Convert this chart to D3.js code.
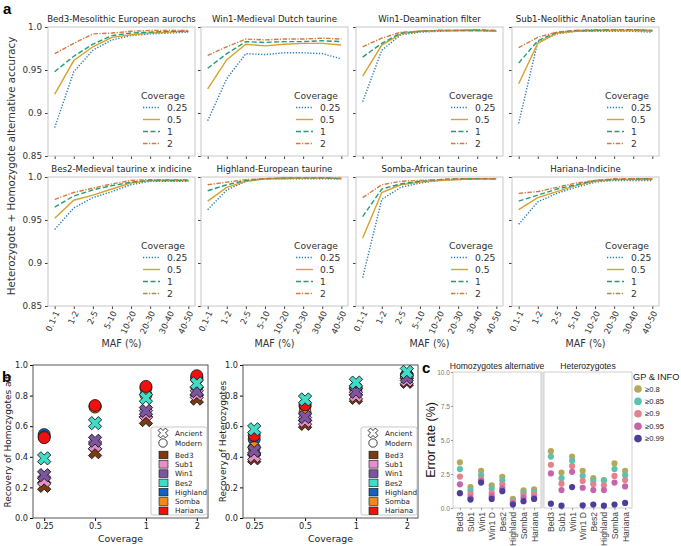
<!DOCTYPE html>
<html>
<head>
<meta charset="utf-8">
<script src="https://cdn.jsdelivr.net/npm/d3@7"></script>
<style>
body { margin: 0; background: #fff; }
svg { display: block; }
</style>
</head>
<body>
<svg id="fig" width="681" height="546"></svg>
<script>
// ---------- data : panel a ----------
var mafBins = ["0.1-1", "1-2", "2-5", "5-10", "10-20", "20-30", "30-40", "40-50"];
var coverageLevels = ["0.25", "0.5", "1", "2"];
var panelTitles = ["Bed3-Mesolithic European aurochs", "Win1-Medieval Dutch taurine",
    "Win1-Deamination filter", "Sub1-Neolithic Anatolian taurine",
    "Bes2-Medieval taurine x indicine", "Highland-European taurine",
    "Somba-African taurine", "Hariana-Indicine"];
var accTicks = [0.85, 0.9, 0.95, 1.0];
var accTickLabels = ["0.85", "0.9", "0.95", "1.0"];

// one row per coverage (0.25, 0.5, 1, 2), one value per MAF bin
var accBed3 = [
    [0.883, 0.948, 0.973, 0.985, 0.990, 0.992, 0.993, 0.994],
    [0.922, 0.961, 0.977, 0.988, 0.991, 0.993, 0.994, 0.995],
    [0.948, 0.966, 0.980, 0.990, 0.993, 0.994, 0.995, 0.995],
    [0.969, 0.981, 0.992, 0.993, 0.995, 0.996, 0.996, 0.996]];
var accWin1 = [
    [0.891, 0.940, 0.969, 0.968, 0.970, 0.970, 0.969, 0.963],
    [0.928, 0.962, 0.980, 0.978, 0.980, 0.981, 0.981, 0.979],
    [0.952, 0.969, 0.983, 0.982, 0.983, 0.983, 0.984, 0.983],
    [0.967, 0.977, 0.986, 0.985, 0.986, 0.986, 0.987, 0.986]];
var accWin1D = [
    [0.913, 0.973, 0.991, 0.994, 0.995, 0.996, 0.996, 0.995],
    [0.943, 0.979, 0.992, 0.995, 0.996, 0.996, 0.996, 0.995],
    [0.965, 0.981, 0.993, 0.995, 0.996, 0.996, 0.996, 0.996],
    [0.977, 0.987, 0.994, 0.995, 0.996, 0.996, 0.997, 0.996]];
var accSub1 = [
    [0.888, 0.983, 0.992, 0.995, 0.995, 0.995, 0.995, 0.994],
    [0.934, 0.981, 0.993, 0.995, 0.996, 0.996, 0.996, 0.995],
    [0.958, 0.984, 0.994, 0.996, 0.996, 0.997, 0.997, 0.996],
    [0.976, 0.988, 0.994, 0.996, 0.997, 0.997, 0.997, 0.996]];
var accBes2 = [
    [0.939, 0.964, 0.976, 0.983, 0.991, 0.995, 0.995, 0.995],
    [0.952, 0.973, 0.979, 0.986, 0.993, 0.996, 0.996, 0.996],
    [0.965, 0.978, 0.985, 0.990, 0.994, 0.996, 0.996, 0.996],
    [0.974, 0.982, 0.987, 0.992, 0.996, 0.997, 0.997, 0.997]];
var accHighland = [
    [0.962, 0.985, 0.995, 0.998, 0.998, 0.998, 0.998, 0.998],
    [0.972, 0.988, 0.995, 0.998, 0.998, 0.999, 0.999, 0.998],
    [0.984, 0.991, 0.996, 0.998, 0.999, 0.999, 0.999, 0.998],
    [0.991, 0.994, 0.997, 0.998, 0.999, 0.999, 0.999, 0.999]];
var accSomba = [
    [0.883, 0.974, 0.988, 0.993, 0.996, 0.997, 0.998, 0.998],
    [0.929, 0.982, 0.991, 0.994, 0.996, 0.997, 0.998, 0.998],
    [0.954, 0.986, 0.992, 0.995, 0.997, 0.998, 0.998, 0.998],
    [0.976, 0.991, 0.995, 0.996, 0.997, 0.998, 0.998, 0.998]];
var accHariana = [
    [0.945, 0.971, 0.981, 0.988, 0.994, 0.996, 0.996, 0.996],
    [0.962, 0.976, 0.983, 0.990, 0.995, 0.997, 0.997, 0.997],
    [0.972, 0.979, 0.986, 0.991, 0.996, 0.997, 0.998, 0.998],
    [0.981, 0.983, 0.988, 0.993, 0.996, 0.998, 0.998, 0.998]];
var panelAcc = [accBed3, accWin1, accWin1D, accSub1, accBes2, accHighland, accSomba, accHariana];

// ---------- data : panel b ----------
var covTicks = ["0.25", "0.5", "1", "2"];
var samples = ["Bed3", "Sub1", "Win1", "Bes2", "Highland", "Somba", "Hariana"];
var sampleType = ["Ancient", "Ancient", "Ancient", "Ancient", "Modern", "Modern", "Modern"];
var recHomAlt = [
    [0.21, 0.43, 0.64, 0.78],
    [0.245, 0.475, 0.68, 0.81],
    [0.28, 0.505, 0.70, 0.83],
    [0.39, 0.62, 0.785, 0.88],
    [0.545, 0.73, 0.85, 0.92],
    [0.53, 0.725, 0.805, 0.91],
    [0.525, 0.735, 0.86, 0.93]];
var recHet = [
    [0.39, 0.615, 0.785, 0.89],
    [0.405, 0.635, 0.80, 0.90],
    [0.44, 0.66, 0.825, 0.92],
    [0.58, 0.775, 0.885, 0.955],
    [0.515, 0.73, 0.85, 0.935],
    [0.46, 0.69, 0.84, 0.93],
    [0.54, 0.74, 0.855, 0.935]];
var recTicks = [0, 0.2, 0.4, 0.6, 0.8, 1.0];

// ---------- data : panel c ----------
var errSamples = ["Bed3", "Sub1", "Win1", "Win1 D", "Bes2", "Highland", "Somba", "Hariana"];
var gpLevels = ["≥0.8", "≥0.85", "≥0.9", "≥0.95", "≥0.99"];
var errTicks = [0, 2.5, 5, 7.5, 10];
// one row per threshold, one value per sample
var errHomAlt = [
    [3.36, 1.54, 2.74, 1.67, 2.29, 0.67, 1.29, 1.37],
    [2.86, 1.29, 2.41, 1.42, 2.04, 0.55, 1.12, 1.19],
    [2.31, 1.02, 2.11, 1.12, 1.74, 0.45, 0.95, 1.00],
    [1.74, 0.75, 1.99, 0.87, 1.44, 0.35, 0.75, 0.75],
    [1.09, 0.62, 1.87, 0.67, 1.24, 0.25, 0.50, 0.67]];
var errHet = [
    [4.18, 2.61, 3.78, 2.74, 2.19, 2.05, 3.28, 2.74],
    [3.78, 2.19, 3.48, 2.36, 1.99, 2.02, 2.86, 2.41],
    [3.18, 1.79, 3.08, 1.99, 1.74, 1.67, 2.36, 2.06],
    [2.54, 1.32, 2.66, 1.49, 1.32, 1.32, 1.87, 1.59],
    [0.32, 0.17, 1.54, 0.20, 0.25, 0.17, 0.25, 0.37]];

// ---------- styles ----------
var covColors = ["#2a7db8", "#d9a12b", "#1f9e7a", "#d6783f"];
var covDash = ["1.3,1.6", null, "5,2.5", "4.5,1.5,1.2,1.5"];
var sampleColors = ["#7a3b10", "#e58fca", "#7c559f", "#3fdcc8", "#1461c0", "#f08a10", "#f01010"];
var gpColors = ["#b6a85a", "#5cc1ad", "#e3838d", "#c566ad", "#4e3e98"];

var svg = d3.select("#fig");
var mpl = "DejaVu Sans, sans-serif";
var arial = "Liberation Sans, Arial, sans-serif";

// panel letters
svg.append("text").attr("x", 3).attr("y", 14).text("a")
    .style("font-family", arial).style("font-weight", "bold").style("font-size", "15px");
svg.append("text").attr("x", 2).attr("y", 382).text("b")
    .style("font-family", arial).style("font-weight", "bold").style("font-size", "15px");
svg.append("text").attr("x", 422).attr("y", 373).text("c")
    .style("font-family", arial).style("font-weight", "bold").style("font-size", "15px");

//----------------- panel a -----------------
var colLeft = [48, 201, 356, 512];
var rowTop = [27, 177];
var pw = 147, ph = 129;

var xA = d3.scalePoint().domain(mafBins).range([0, pw]).padding(0.35);
var yA = d3.scaleLinear().domain([0.85, 1.0]).range([ph, 0]);

panelTitles.forEach(function(title, i) {
    var col = i % 4, row = Math.floor(i / 4);
    var g = svg.append("g").attr("transform", "translate(" + colLeft[col] + "," + rowTop[row] + ")");

    g.append("text").attr("x", pw / 2).attr("y", -5).attr("text-anchor", "middle")
        .style("font-family", mpl).style("font-size", "8.6px").style("fill", "#222").text(title);

    // axes
    var ax = g.append("g").call(d3.axisLeft(yA).tickValues(accTicks)
        .tickFormat(function(d, j) { return col == 0 ? accTickLabels[j] : ""; }).tickSize(3).tickPadding(3));
    ax.select(".domain").remove();
    ax.selectAll("line").attr("stroke", "#444");
    ax.selectAll("text").style("font-family", mpl).style("font-size", "8.8px").style("fill", "#333");

    var bx = g.append("g").attr("transform", "translate(0," + ph + ")")
        .call(d3.axisBottom(xA).tickSize(3));
    bx.select(".domain").remove();
    bx.selectAll("line").attr("stroke", "#444");
    if (row == 1) {
        bx.selectAll("text")
            .attr("x", -4).attr("y", 4).attr("dy", "0.35em")
            .attr("text-anchor", "end").attr("transform", "rotate(-65)")
            .style("font-family", mpl).style("font-size", "8.4px").style("fill", "#333");
    } else {
        bx.selectAll("text").remove();
    }

    g.append("rect").attr("width", pw).attr("height", ph)
        .attr("fill", "none").attr("stroke", "#c8c8c8").attr("stroke-width", 1);

    // lines
    var line = d3.line().x(function(d, j) { return xA(mafBins[j]); }).y(function(d) { return yA(d); });
    panelAcc[i].forEach(function(vals, k) {
        g.append("path").datum(vals).attr("d", line)
            .attr("fill", "none").attr("stroke", covColors[k]).attr("stroke-width", 1.4)
            .attr("stroke-dasharray", covDash[k]);
    });

    // legend
    var lg = g.append("g");
    lg.append("text").attr("x", 115).attr("y", 71.5).attr("text-anchor", "middle")
        .style("font-family", mpl).style("font-size", "9.2px").style("fill", "#333").text("Coverage");
    coverageLevels.forEach(function(c, k) {
        var yy = 80.5 + k * 12;
        lg.append("line").attr("x1", 95).attr("x2", 112).attr("y1", yy).attr("y2", yy)
            .attr("stroke", covColors[k]).attr("stroke-width", 1.4).attr("stroke-dasharray", covDash[k]);
        lg.append("text").attr("x", 119).attr("y", yy + 3.3)
            .style("font-family", mpl).style("font-size", "9.2px").style("fill", "#333").text(c);
    });

    if (row == 1) {
        svg.append("text").attr("x", colLeft[col] + pw / 2).attr("y", 347).attr("text-anchor", "middle")
            .style("font-family", mpl).style("font-size", "9.6px").style("fill", "#333").text("MAF (%)");
    }
});

svg.append("text").attr("transform", "translate(15,166) rotate(-90)").attr("text-anchor", "middle")
    .style("font-family", mpl).style("font-size", "10.3px").style("fill", "#333")
    .text("Heterozygote + Homozygote alternative accuracy");

//----------------- panel b -----------------
var xMarker = d3.symbol().type(d3.symbolCross).size(110);
var recPlots = [
    { left: 33, data: recHomAlt, label: "Recovery of Homozygotes alt", labelX: 11 },
    { left: 243, data: recHet, label: "Recovery of Heterozygotes", labelX: 226 }];
var bw = 175, bTop = 365, bh = 153;

var yB = d3.scaleLinear().domain([0, 1]).range([bh, 0]);
var xB = d3.scalePoint().domain(covTicks).range([0, bw]).padding(0.22);

recPlots.forEach(function(p) {
    var g = svg.append("g").attr("transform", "translate(" + p.left + "," + bTop + ")");

    var ay = g.append("g").call(d3.axisLeft(yB).tickValues(recTicks).tickFormat(d3.format(".1f")).tickSize(3).tickPadding(2));
    ay.select(".domain").remove();
    ay.selectAll("text").style("font-family", mpl).style("font-size", "8.2px").style("fill", "#222");
    var axb = g.append("g").attr("transform", "translate(0," + bh + ")").call(d3.axisBottom(xB).tickSize(3).tickPadding(2));
    axb.select(".domain").remove();
    axb.selectAll("text").style("font-family", mpl).style("font-size", "8.2px").style("fill", "#222");

    g.append("rect").attr("width", bw).attr("height", bh).attr("fill", "none")
        .attr("stroke", "#555").attr("stroke-width", 1);

    // modern first, then ancient on top
    var order = [4, 5, 6, 0, 1, 2, 3];
    order.forEach(function(s) {
        p.data[s].forEach(function(v, k) {
            var cx = xB(covTicks[k]), cy = yB(v);
            if (sampleType[s] == "Modern") {
                g.append("circle").attr("cx", cx).attr("cy", cy).attr("r", 6)
                    .attr("fill", sampleColors[s]).attr("stroke", "#111").attr("stroke-width", 0.8);
            } else {
                g.append("path").attr("d", xMarker)
                    .attr("transform", "translate(" + cx + "," + cy + ") rotate(45)")
                    .attr("fill", sampleColors[s]).attr("stroke", "#111").attr("stroke-width", 0.8);
            }
        });
    });

    // legend
    var lg = g.append("g").attr("transform", "translate(118,62)");
    lg.append("rect").attr("width", 56).attr("height", 88).attr("rx", 2)
        .attr("fill", "#fff").attr("fill-opacity", 0.85).attr("stroke", "#bbb").attr("stroke-width", 0.8);
    lg.append("path").attr("d", d3.symbol().type(d3.symbolCross).size(60))
        .attr("transform", "translate(12,6) rotate(45)").attr("fill", "#fff").attr("stroke", "#111").attr("stroke-width", 0.8);
    lg.append("text").attr("x", 24).attr("y", 8.5).text("Ancient");
    lg.append("circle").attr("cx", 12).attr("cy", 16).attr("r", 4.2)
        .attr("fill", "#fff").attr("stroke", "#111").attr("stroke-width", 0.8);
    lg.append("text").attr("x", 24).attr("y", 18.5).text("Modern");
    samples.forEach(function(s, k) {
        var yy = 28 + k * 9.3;
        lg.append("rect").attr("x", 8).attr("y", yy - 3.8).attr("width", 9).attr("height", 7.6)
            .attr("fill", sampleColors[k]).attr("stroke", "#111").attr("stroke-width", 0.6);
        lg.append("text").attr("x", 24).attr("y", yy + 2.6).text(s);
    });
    lg.selectAll("text").style("font-family", mpl).style("font-size", "7.2px").style("fill", "#222");

    svg.append("text").attr("transform", "translate(" + p.labelX + "," + (bTop + bh / 2) + ") rotate(-90)")
        .attr("text-anchor", "middle").style("font-family", mpl).style("font-size", "9px").style("fill", "#222")
        .text(p.label);
    svg.append("text").attr("x", p.left + bw / 2).attr("y", 542).attr("text-anchor", "middle")
        .style("font-family", mpl).style("font-size", "9.4px").style("fill", "#222").text("Coverage");
});

//----------------- panel c -----------------
var cTop = 372, ch = 136, cw = 88;
var facets = [
    { left: 453, data: errHomAlt, title: "Homozygotes alternative" },
    { left: 544, data: errHet, title: "Heterozygotes" }];
var yC = d3.scaleLinear().domain([0, 10]).range([ch, 0]);
var xC = d3.scalePoint().domain(errSamples).range([0, cw]).padding(0.65);

svg.append("rect").attr("x", 541).attr("y", cTop).attr("width", 4).attr("height", ch).attr("fill", "#e4e4e4");

facets.forEach(function(f, fi) {
    var g = svg.append("g").attr("transform", "translate(" + f.left + "," + cTop + ")");
    g.append("rect").attr("width", cw).attr("height", ch).attr("fill", "#fff")
        .attr("stroke", "#cfcfcf").attr("stroke-width", 1);
    g.append("text").attr("x", cw / 2).attr("y", -3).attr("text-anchor", "middle")
        .style("font-family", arial).style("font-size", "8.6px").style("fill", "#222").text(f.title);

    if (fi == 0) {
        var ay = g.append("g").call(d3.axisLeft(yC).tickValues(errTicks).tickFormat(d3.format(".1f")).tickSize(2).tickPadding(1));
        ay.select(".domain").remove();
        ay.selectAll("line").attr("stroke", "#999");
        ay.selectAll("text").style("font-family", arial).style("font-size", "6.6px").style("fill", "#777");
    }
    var axb = g.append("g").attr("transform", "translate(0," + ch + ")").call(d3.axisBottom(xC).tickSize(2));
    axb.select(".domain").remove();
    axb.selectAll("line").attr("stroke", "#999");
    axb.selectAll("text").attr("x", -4).attr("y", 0).attr("dy", "0.35em")
        .attr("text-anchor", "end").attr("transform", "rotate(-90)")
        .style("font-family", arial).style("font-size", "8.6px").style("fill", "#444");

    f.data.forEach(function(vals, k) {
        g.selectAll(null).data(vals).enter().append("circle")
            .attr("cx", function(d, j) { return xC(errSamples[j]); })
            .attr("cy", function(d) { return yC(d); })
            .attr("r", 3.1).attr("fill", gpColors[k]);
    });
});

svg.append("text").attr("transform", "translate(435," + (cTop + ch / 2) + ") rotate(-90)")
    .attr("text-anchor", "middle").style("font-family", arial).style("font-size", "12.5px").style("fill", "#111")
    .text("Error rate (%)");

var lc = svg.append("g").attr("transform", "translate(633,376)");
lc.append("text").attr("x", 0).attr("y", 3.5).text("GP & INFO")
    .style("font-family", arial).style("font-size", "9.2px").style("fill", "#222");
gpLevels.forEach(function(lv, k) {
    var yy = 13 + k * 12.4;
    lc.append("circle").attr("cx", 5).attr("cy", yy).attr("r", 3.8).attr("fill", gpColors[k]);
    lc.append("text").attr("x", 12).attr("y", yy + 2.6).text(lv)
        .style("font-family", arial).style("font-size", "7.6px").style("fill", "#222");
});
</script>
</body>
</html>
